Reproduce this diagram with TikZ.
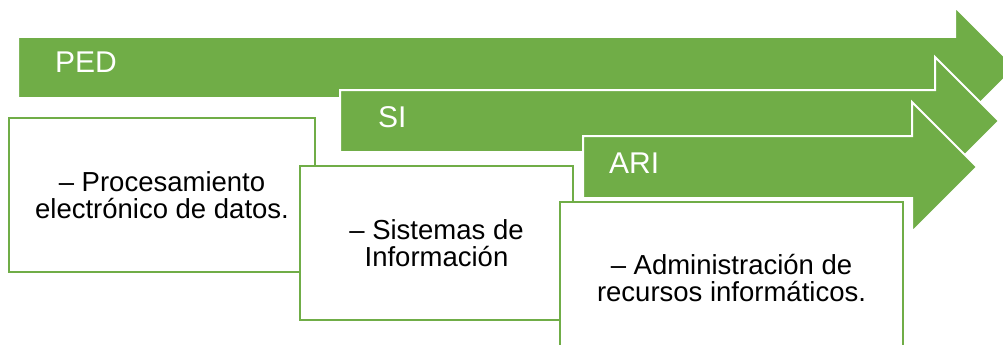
\documentclass[tikz,border=0pt]{standalone}
\usepackage{fontspec}
\setmainfont{Liberation Sans}
\usepackage{tikz}
\usetikzlibrary{positioning}
\definecolor{verde}{HTML}{70AD47}

\tikzset{
	flecha/.style={fill=verde, draw=white, line width=2pt, line join=miter},
	etiqueta/.style={text=white, font=\fontsize{30}{30}\selectfont, inner sep=0pt, anchor=base west},
	caja/.style={draw=verde, fill=white, line width=2pt, inner sep=0pt, align=center,
		font=\fontsize{27.5}{27}\selectfont}
}

\begin{document}
\begin{tikzpicture}[x=1pt, y=-1pt]
			\useasboundingbox (0,0) rectangle (1003,345);
			\clip (0,0) rectangle (1003,345);
			
			% 三个箭头
			\draw[flecha] (18,37) -- (955,37) -- (955,7) -- (1015.5,67.5) -- (955,128) -- (955,98) -- (18,98) -- cycle;
			\draw[flecha] (340,90) -- (935,90) -- (935,57) -- (999,121) -- (935,185) -- (935,152) -- (340,152) -- cycle;
			\draw[flecha] (583,136) -- (912,136) -- (912,102) -- (977,167) -- (912,232) -- (912,198) -- (583,198) -- cycle;
			
			% 箭头上的文字
			\node[etiqueta] (ped) at (55,73) {PED};
			\node[etiqueta] (si) at (378,127) {SI};
			\node[etiqueta] (ari) at (609,173) {ARI};
			
			% 下面的方框
			\node[caja, minimum width=306pt, minimum height=154pt] (caja ped) at (162,195)
				{– Procesamiento\\electrónico de datos.};
			\node[caja, minimum width=273pt, minimum height=154pt] (caja si) at (436.5,243)
				{– Sistemas de\\Información};
			\node[caja, minimum width=343pt, minimum height=152pt] (caja ari) at (731.5,278)
				{– Administración de\\recursos informáticos.};
		\end{tikzpicture}
\end{document}
